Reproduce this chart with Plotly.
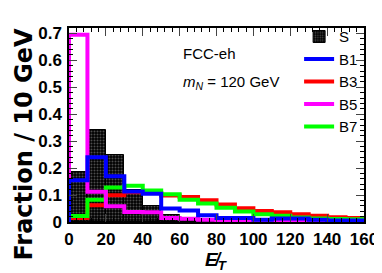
import plotly.graph_objects as go

# MET bins (GeV), low edges, width 10
bin_low = [0, 10, 20, 30, 40, 50, 60, 70, 80, 90, 100, 110, 120, 130, 140, 150]
bin_width = 10

S  = [0.186, 0.340, 0.250, 0.120, 0.058, 0.026, 0.015, 0.005, 0.003, 0.002, 0.002, 0.001, 0.001, 0.001, 0.000, 0.000]
B1 = [0.155, 0.240, 0.170, 0.113, 0.105, 0.050, 0.043, 0.025, 0.015, 0.015, 0.008, 0.013, 0.013, 0.008, 0.006, 0.006]
B3 = [0.015, 0.062, 0.099, 0.110, 0.108, 0.098, 0.093, 0.081, 0.065, 0.051, 0.041, 0.036, 0.029, 0.023, 0.018, 0.015]
B5 = [0.695, 0.112, 0.058, 0.037, 0.036, 0.015, 0.012, 0.008, 0.005, 0.005, 0.003, 0.003, 0.002, 0.002, 0.001, 0.001]
B7 = [0.022, 0.083, 0.128, 0.135, 0.117, 0.103, 0.083, 0.069, 0.053, 0.039, 0.029, 0.023, 0.017, 0.013, 0.011, 0.010]

FONT = "Liberation Sans, Arial, sans-serif"

fig = go.Figure()

fig.add_trace(go.Bar(
    x=[b + bin_width / 2 for b in bin_low], y=S, width=bin_width, name="S",
    marker=dict(color="black", line=dict(color="black", width=1),
                pattern=dict(shape=".", fgcolor="#9a9a9a", size=3, solidity=0.35)),
    legendrank=1,
))

def step(vals):
    xs = [bin_low[0]] + bin_low + [bin_low[-1] + bin_width]
    ys = [0] + vals + [vals[-1]]
    return xs, ys

for name, vals, col, rank in [("B3", B3, "#ff0000", 3), ("B7", B7, "#00ff00", 5),
                              ("B5", B5, "#ff00ff", 4), ("B1", B1, "#0000ff", 2)]:
    xs, ys = step(vals)
    fig.add_trace(go.Scatter(x=xs, y=ys, mode="lines", name=name, legendrank=rank,
                             line=dict(color=col, width=4, shape="hv")))

fig.update_layout(
    width=382, height=273,
    margin=dict(l=61, r=16, t=15, b=59),
    paper_bgcolor="white", plot_bgcolor="white",
    bargap=0, showlegend=True,
    font=dict(family=FONT, color="black"),
    legend=dict(x=0.78, y=1.04, xanchor="left", yanchor="top", bgcolor="rgba(0,0,0,0)",
                font=dict(size=15, family=FONT), itemwidth=30, tracegroupgap=0),
    xaxis=dict(range=[0, 160], dtick=20, showgrid=False, zeroline=False,
               ticks="inside", ticklen=8, tickwidth=1, mirror="allticks",
               showline=True, linecolor="black", linewidth=1.5,
               tickfont=dict(size=17, family=FONT, weight="bold"), ticklabelstandoff=1,
               minor=dict(dtick=4, ticks="inside", ticklen=4, tickcolor="black")),
    yaxis=dict(range=[0, 0.72], dtick=0.1, showgrid=False, zeroline=False,
               ticks="inside", ticklen=8, tickwidth=1, mirror="allticks",
               showline=True, linecolor="black", linewidth=1.5,
               tickfont=dict(size=17, family=FONT, weight="bold"), ticklabelstandoff=2,
               minor=dict(dtick=0.02, ticks="inside", ticklen=4, tickcolor="black")),
)

fig.add_annotation(x=-0.152, y=0.40, xref="paper", yref="paper", text="<b>Fraction / 10 GeV</b>",
                   textangle=-90, showarrow=False, xanchor="center", yanchor="middle",
                   font=dict(size=24, family="DejaVu Sans, sans-serif"))
fig.add_annotation(x=0.50, y=-0.272, xref="paper", yref="paper",
                   text="<b><i>E̸</i><sub><i>T</i></sub></b>", showarrow=False,
                   xanchor="center", yanchor="bottom", font=dict(size=19, family=FONT))
fig.add_annotation(x=0.38, y=0.87, xref="paper", yref="paper", text="FCC-eh", showarrow=False,
                   xanchor="left", yanchor="middle", font=dict(size=15, family=FONT))
fig.add_annotation(x=0.38, y=0.72, xref="paper", yref="paper", text="<i>m<sub>N</sub></i> = 120 GeV",
                   showarrow=False, xanchor="left", yanchor="middle", font=dict(size=15, family=FONT))

fig.write_html("out.html")
